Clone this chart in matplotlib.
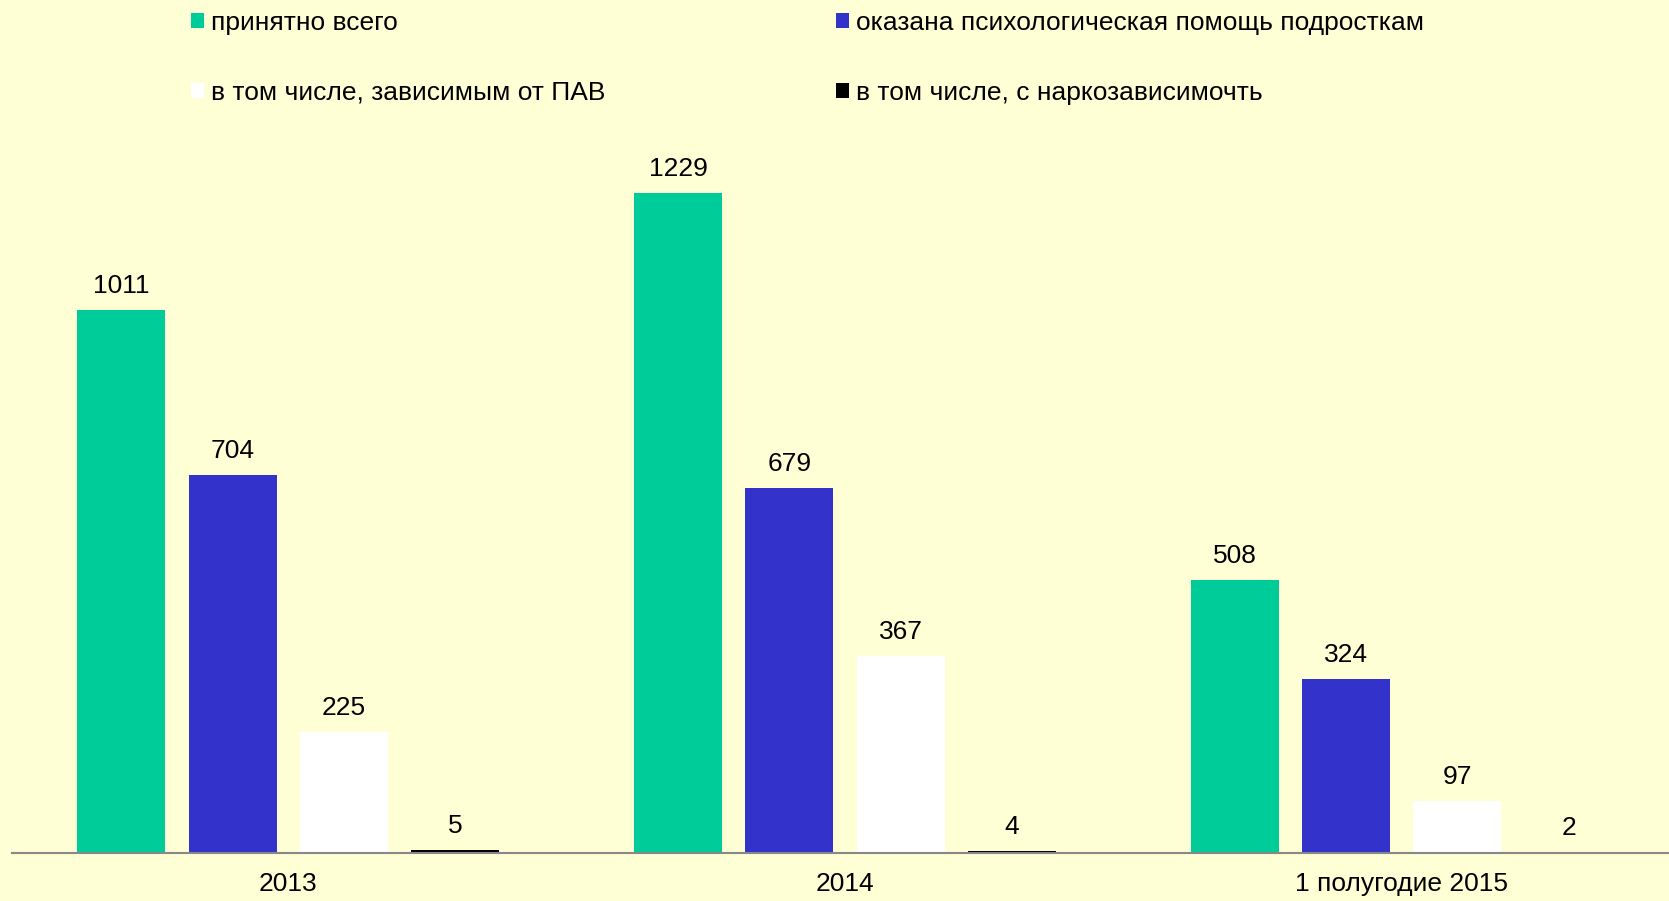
import numpy as np
import matplotlib
matplotlib.use('Agg')
import matplotlib.pyplot as plt
from matplotlib.patches import Patch

plt.rcParams['font.family'] = ['Liberation Sans', 'DejaVu Sans']

# данные
categories = ['2013', '2014', '1 полугодие 2015']
series_names = ['принятно всего',
                'оказана психологическая помощь подросткам',
                'в том числе, зависимым от ПАВ',
                'в том числе, с наркозависимочть']
total = [1011, 1229, 508]
psy_help = [704, 679, 324]
pav = [225, 367, 97]
narco = [5, 4, 2]

colors = ['#00CC99', '#3333CC', '#FFFFFF', '#000000']
bg = '#FFFFD5'
fs = 19

fig = plt.figure(figsize=(16.69, 9.01), dpi=100, facecolor=bg)
ax = fig.add_axes([0.007, 0.0533, 0.993, 0.9467], facecolor=bg)

x = np.arange(len(categories))
width = 0.158
offsets = [-0.3, -0.1, 0.1, 0.3]
values = [total, psy_help, pav, narco]

for vals, off, c in zip(values, offsets, colors):
    bars = ax.bar(x + off, vals, width, color=c, zorder=2)
    for b, v in zip(bars, vals):
        ax.annotate(str(v), (b.get_x() + b.get_width() / 2, v),
                    xytext=(0, 17.5), textcoords='offset points',
                    ha='center', va='center', fontsize=fs)

ax.set_xlim(-0.497, 2.48)
ax.set_ylim(0, 1588)
ax.set_xticks(x)
ax.set_xticklabels(categories, fontsize=fs)
ax.tick_params(axis='x', length=0, pad=13.5)
ax.set_yticks([])
for s in ['top', 'right', 'left']:
    ax.spines[s].set_visible(False)
ax.spines['bottom'].set_color('#888888')
ax.spines['bottom'].set_linewidth(1.5)
ax.spines['bottom'].set_zorder(3)

# легенда: порядок для заполнения по столбцам
order = [0, 2, 1, 3]
handles = [Patch(facecolor=colors[i], edgecolor='none') for i in order]
labels = [series_names[i] for i in order]
fig.legend(handles, labels, ncol=2, loc='upper left',
           bbox_to_anchor=(0.108, 1.0), frameon=False, fontsize=fs,
           handlelength=0.5, handleheight=0.5, handletextpad=0.25,
           labelspacing=1.75, columnspacing=8.75, borderaxespad=0)

fig.savefig('out.png', dpi=100, facecolor=bg)
